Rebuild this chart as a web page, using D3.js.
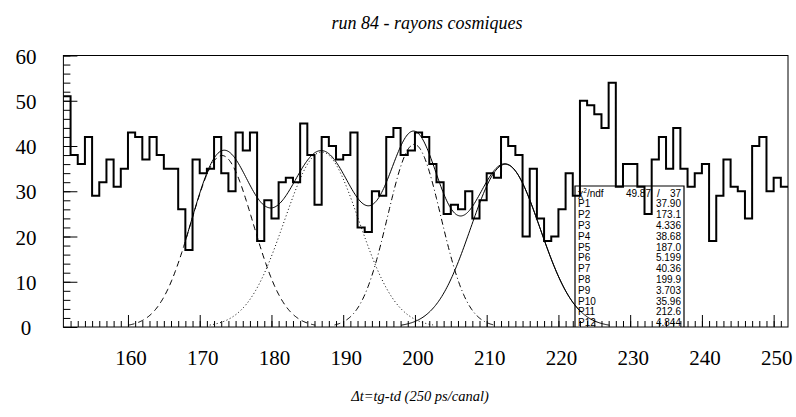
<!DOCTYPE html>
<html><head><meta charset="utf-8">
<script src="https://cdn.jsdelivr.net/npm/d3@7"></script>
<style>
body{margin:0;background:#fff;}
svg{display:block;}
</style></head>
<body>
<svg id="c" width="796" height="417"></svg>
<script>
// ---- data ----
const binStart = 151;   // lower edge of first bin
const binEnd = 252;     // upper edge of last bin
const counts = [51,38,36,42,29,32,37,31,35,43,42,37,42,38,35,35,26,17,37,34,
                35,42,34,30,43,39,43,19,28,24,32,33,32,45,38,27,42,40,37,38,
                43,22,21,30,29,42,44,38,39,43,42,36,32,25,27,26,30,24,28,34,
                33,42,40,38,20,35,24,19,20,26,34,29,50,49,47,44,54,31,36,36,
                31,25,37,42,35,44,35,31,34,36,19,29,37,31,30,24,40,42,30,33,31];
const xTickLabels = [160,170,180,190,200,210,220,230,240,250];
const yTickLabels = [0,10,20,30,40,50,60];
// fit parameters P1..P12 : amplitude, mean, sigma for 4 gaussians
const fitAmp   = [37.90, 38.68, 40.36, 35.96];
const fitMean  = [173.1, 187.0, 199.9, 212.6];
const fitSigma = [4.336, 5.199, 3.703, 4.844];
const fitDash  = ["6,4", "1,2.5", "6,3,1,3", null];
const sumRange = [168, 223];
const statsLabels = ["P1","P2","P3","P4","P5","P6","P7","P8","P9","P10","P11","P12"];
const statsValues = ["37.90","173.1","4.336","38.68","187.0","5.199","40.36","199.9","3.703","35.96","212.6","4.844"];
const chi2 = "49.87", ndf = "37";
const title = "run 84 - rayons cosmiques";
const xTitle = "\u0394t=tg-td (250 ps/canal)";

// ---- layout ----
const L = 63.4, R = 788, T = 55.5, B = 327;
const svg = d3.select("#c");
const x = d3.scaleLinear().domain([binStart, binEnd]).range([L, R]);
const y = d3.scaleLinear().domain([0, 60]).range([B, T]);
const serif = "'Liberation Serif','Times New Roman',serif";
const sans = "'Liberation Sans',Arial,sans-serif";

// frame
svg.append("rect").attr("x", L).attr("y", T).attr("width", R - L).attr("height", B - T)
  .attr("fill", "none").attr("stroke", "#000").attr("stroke-width", 1);

// y axis ticks (inward)
const yMinor = d3.range(0, 61, 2);
svg.append("g").attr("transform", `translate(${L},0)`)
  .call(d3.axisLeft(y).tickValues(yMinor).tickSize(-7).tickFormat(""))
  .call(g => g.select(".domain").remove());
svg.append("g").attr("transform", `translate(${L},0)`)
  .call(d3.axisLeft(y).tickValues(yTickLabels).tickSize(-14).tickFormat(""))
  .call(g => g.select(".domain").remove());
// x axis ticks (inward)
const xMinor = d3.range(152, 252, 1);
svg.append("g").attr("transform", `translate(0,${B})`)
  .call(d3.axisBottom(x).tickValues(xMinor).tickSize(-6).tickFormat(""))
  .call(g => g.select(".domain").remove());
svg.append("g").attr("transform", `translate(0,${B})`)
  .call(d3.axisBottom(x).tickValues(xTickLabels).tickSize(-12).tickFormat(""))
  .call(g => g.select(".domain").remove());
svg.selectAll(".tick line").attr("stroke", "#000").attr("stroke-width", 1);

// tick labels
svg.append("g").selectAll("text").data(yTickLabels).join("text")
  .attr("x", 26).attr("y", d => y(d) + 8)
  .attr("text-anchor", "middle").attr("font-family", serif).attr("font-size", 21)
  .text(d => d);
svg.append("g").selectAll("text").data(xTickLabels).join("text")
  .attr("x", d => x(d) + 3).attr("y", 365)
  .attr("text-anchor", "middle").attr("font-family", serif).attr("font-size", 21)
  .text(d => d);

// titles
svg.append("text").attr("x", 427).attr("y", 29).attr("text-anchor", "middle")
  .attr("font-family", serif).attr("font-style", "italic").attr("font-size", 18).text(title);
svg.append("text").attr("x", 420).attr("y", 401).attr("text-anchor", "middle")
  .attr("font-family", serif).attr("font-style", "italic").attr("font-size", 14.5).text(xTitle);

// stats box (transparent)
const bx0 = 575, bx1 = 684, by0 = 186;
svg.append("path").attr("d", `M${bx0},${B}V${by0}H${bx1}V${B}`)
  .attr("fill", "none").attr("stroke", "#000").attr("stroke-width", 1.2);
const rowH = 10.8, row0 = 196.5;
const st = svg.append("g").attr("font-family", sans).attr("font-size", 10);
const chiT = st.append("text").attr("x", 578).attr("y", row0);
chiT.append("tspan").text("\u03C7");
chiT.append("tspan").attr("dy", -4).attr("font-size", 6.5).text("2");
chiT.append("tspan").attr("dy", 4).text("/ndf");
st.append("text").attr("x", 651).attr("y", row0).attr("text-anchor", "end").text(chi2);
st.append("text").attr("x", 657).attr("y", row0).text("/");
st.append("text").attr("x", 681).attr("y", row0).attr("text-anchor", "end").text(ndf);
st.selectAll("text.lab").data(statsLabels).join("text").attr("class", "lab")
  .attr("x", 578).attr("y", (d, i) => row0 + (i + 1) * rowH).text(d => d);
st.selectAll("text.val").data(statsValues).join("text").attr("class", "val")
  .attr("x", 681).attr("y", (d, i) => row0 + (i + 1) * rowH).attr("text-anchor", "end").text(d => d);

// histogram
const pts = counts.map((c, i) => [binStart + i, c]);
pts.push([binEnd, counts[counts.length - 1]]);
svg.append("path").datum(pts)
  .attr("d", d3.line().x(d => x(d[0])).y(d => y(d[1])).curve(d3.curveStepAfter))
  .attr("fill", "none").attr("stroke", "#000").attr("stroke-width", 2);

// fit curves
const gauss = (k, t) => fitAmp[k] * Math.exp(-0.5 * ((t - fitMean[k]) / fitSigma[k]) ** 2);
const line = d3.line().x(d => x(d[0])).y(d => y(d[1]));
fitAmp.forEach((a, k) => {
  const lo = fitMean[k] - 3 * fitSigma[k], hi = fitMean[k] + 3 * fitSigma[k];
  const p = d3.range(0, 201).map(j => { const t = lo + (hi - lo) * j / 200; return [t, gauss(k, t)]; });
  svg.append("path").datum(p).attr("d", line).attr("fill", "none")
    .attr("stroke", "#000").attr("stroke-width", 1)
    .attr("stroke-dasharray", fitDash[k]);
});
const sp = d3.range(0, 401).map(j => {
  const t = sumRange[0] + (sumRange[1] - sumRange[0]) * j / 400;
  return [t, fitAmp.reduce((s, _, k) => s + gauss(k, t), 0)];
});
svg.append("path").datum(sp).attr("d", line).attr("fill", "none")
  .attr("stroke", "#000").attr("stroke-width", 1);
</script>
</body></html>
